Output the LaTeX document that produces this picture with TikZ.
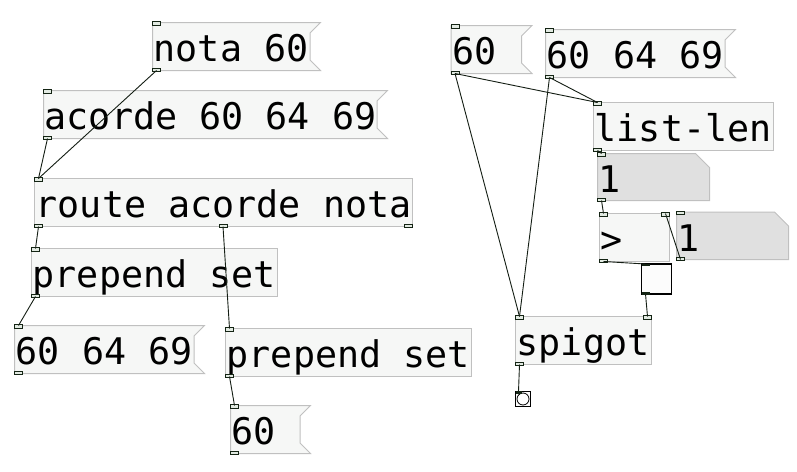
\documentclass[tikz,border=0pt]{standalone}
\usepackage{fontspec}
\newfontfamily\pdfont{DejaVu Sans Mono}
\definecolor{boxline}{RGB}{192,192,192}
\definecolor{boxfill}{RGB}{246,247,246}
\definecolor{atomfill}{RGB}{224,224,224}
\definecolor{portline}{RGB}{20,36,20}
\definecolor{portfill}{RGB}{226,234,226}
\definecolor{wirecol}{RGB}{20,30,20}
\tikzset{
  pdbox/.style={draw=boxline, fill=boxfill, line width=1pt, rectangle, inner sep=0pt, outer sep=0pt, anchor=north west},
  ghost/.style={rectangle, inner sep=0pt, outer sep=0pt, anchor=north west},
  shapeline/.style={draw=boxline, line width=1pt},
  pdtext/.style={font=\pdfont\fontsize{36.7}{40}\selectfont, inner sep=0pt, outer sep=0pt, anchor=base west, text=black},
  port/.style={draw=portline, fill=portfill, line width=0.8pt},
  wire/.style={draw=wirecol, line width=0.9pt},
}
\newcommand\PdObj[6]{%
  \node[pdbox, minimum width=#4pt, minimum height=#5pt] (#1) at (#2,#3) {};
  \node[pdtext] (#1-t) at ([shift={(1.3,39)}]#1.north west) {#6};}
\newcommand\PdMsg[6]{%
  \node[ghost, minimum width=#4pt, minimum height=#5pt] (#1) at (#2,#3) {};
  \draw[shapeline, fill=boxfill] (#1.north west) -- (#1.north east) -- ([shift={(-10.5,10.5)}]#1.north east) -- ([shift={(-10.5,-10.5)}]#1.south east) -- (#1.south east) -- (#1.south west) -- cycle;
  \node[pdtext] (#1-t) at ([shift={(1.3,39)}]#1.north west) {#6};}
\newcommand\PdAtom[6]{%
  \node[ghost, minimum width=#4pt, minimum height=#5pt] (#1) at (#2,#3) {};
  \draw[shapeline, fill=atomfill] (#1.north west) -- ([shift={(-14,0)}]#1.north east) -- ([shift={(0,14)}]#1.north east) -- (#1.south east) -- (#1.south west) -- cycle;
  \node[pdtext] (#1-t) at ([shift={(1.3,39)}]#1.north west) {#6};}
\newcommand\PdIn[3]{%
  \draw[port] ([xshift=#2pt, yshift=1pt]#1.north west) rectangle ([xshift=#2pt+8pt, yshift=-2.5pt]#1.north west);
  \coordinate (#3) at ([xshift=#2pt+4pt]#1.north west);}
\newcommand\PdOut[3]{%
  \draw[port] ([xshift=#2pt, yshift=2.5pt]#1.south west) rectangle ([xshift=#2pt+8pt, yshift=-1pt]#1.south west);
  \coordinate (#3) at ([xshift=#2pt+4pt]#1.south west);}
\begin{document}
\begin{tikzpicture}[x=1pt, y=-1pt]
\fill[white] (0,0) rectangle (797,471);
\useasboundingbox (0,0) rectangle (797,471);

% left part
\PdMsg{nota}{152.5}{22.5}{168}{48}{nota 60}
\PdMsg{acorde}{43.5}{90.5}{344}{48}{acorde 60 64 69}
\PdObj{route}{34.5}{178.5}{378}{48}{route acorde nota}
\PdObj{prepA}{31.5}{248.5}{246}{48}{prepend set}
\PdMsg{msgL}{14.5}{325.5}{190}{48}{60 64 69}
\PdObj{prepB}{225.5}{328.5}{246}{48}{prepend set}
\PdMsg{sixL}{230.5}{405.5}{80}{48}{60}

% right part
\PdMsg{sixR}{451}{25.5}{81}{48}{60}
\PdMsg{chordR}{545.5}{29.5}{190}{48}{60 64 69}
\PdObj{listlen}{593.5}{102.5}{180}{48}{list-len}
\PdAtom{numA}{597.5}{153.5}{112}{47}{1}
\PdObj{gt}{599.5}{213.5}{70}{48}{>}
\PdAtom{numB}{676.5}{212}{112}{47.5}{1}
\node[ghost, draw=black, fill=white!98!gray, line width=1.1pt, minimum width=30pt, minimum height=30pt] (tgl) at (641.5,264) {};
\PdObj{spigot}{515.5}{316.5}{136}{48}{spigot}
\node[ghost, draw=black, fill=white!97!gray, line width=1.3pt, minimum width=15pt, minimum height=15pt] (bng) at (515.5,391.5) {};
\draw[black, line width=0.8pt, fill=white] (bng.center) circle (6pt);

% ports
\PdIn{nota}{0}{nota-i}\PdOut{nota}{0}{nota-o}
\PdIn{acorde}{0}{acorde-i}\PdOut{acorde}{0}{acorde-o}
\PdIn{route}{0}{route-i}\PdOut{route}{0}{route-o0}\PdOut{route}{184.5}{route-o1}\PdOut{route}{370}{route-o2}
\PdIn{prepA}{0}{prepA-i}\PdOut{prepA}{0}{prepA-o}
\PdIn{msgL}{0}{msgL-i}\PdOut{msgL}{0}{msgL-o}
\PdIn{prepB}{0}{prepB-i}\PdOut{prepB}{0}{prepB-o}
\PdIn{sixL}{0}{sixL-i}\PdOut{sixL}{0}{sixL-o}
\PdIn{sixR}{0}{sixR-i}\PdOut{sixR}{0}{sixR-o}
\PdIn{chordR}{0}{chordR-i}\PdOut{chordR}{0}{chordR-o}
\PdIn{listlen}{0}{listlen-i}\PdOut{listlen}{0}{listlen-o}
\PdIn{numA}{0}{numA-i}\PdOut{numA}{0}{numA-o}
\PdIn{gt}{0}{gt-i0}\PdIn{gt}{62}{gt-i1}\PdOut{gt}{0}{gt-o}
\PdIn{numB}{0}{numB-i}\PdOut{numB}{0}{numB-o}
\PdIn{spigot}{0}{spigot-i0}\PdIn{spigot}{128}{spigot-i1}\PdOut{spigot}{0}{spigot-o}
\fill[portline] ([yshift=0.5pt]tgl.north west) rectangle ([xshift=8pt, yshift=-2pt]tgl.north west);
\fill[portline] ([yshift=2pt]tgl.south west) rectangle ([xshift=8pt, yshift=-0.5pt]tgl.south west);
\coordinate (tgl-i) at ([xshift=4pt]tgl.north west);
\coordinate (tgl-o) at ([xshift=4pt]tgl.south west);
\fill[portline] ([yshift=0.5pt]bng.north west) rectangle ([xshift=6pt, yshift=-2pt]bng.north west);
\coordinate (bng-i) at ([xshift=3pt]bng.north west);

% wires
\draw[wire] (nota-o) -- (route-i);
\draw[wire] (acorde-o) -- (route-i);
\draw[wire] (route-o0) -- (prepA-i);
\draw[wire] (route-o1) -- (prepB-i);
\draw[wire] (prepA-o) -- (msgL-i);
\draw[wire] (prepB-o) -- (sixL-i);
\draw[wire] (sixR-o) -- (listlen-i);
\draw[wire] (sixR-o) -- (spigot-i0);
\draw[wire] (chordR-o) -- (listlen-i);
\draw[wire] (chordR-o) -- (spigot-i0);
\draw[wire] (listlen-o) -- (numA-i);
\draw[wire] (numA-o) -- (gt-i0);
\draw[wire] (numB-o) -- (gt-i1);
\draw[wire] (gt-o) -- (tgl-i);
\draw[wire] (tgl-o) -- (spigot-i1);
\draw[wire] (spigot-o) -- (bng-i);
\end{tikzpicture}
\end{document}
